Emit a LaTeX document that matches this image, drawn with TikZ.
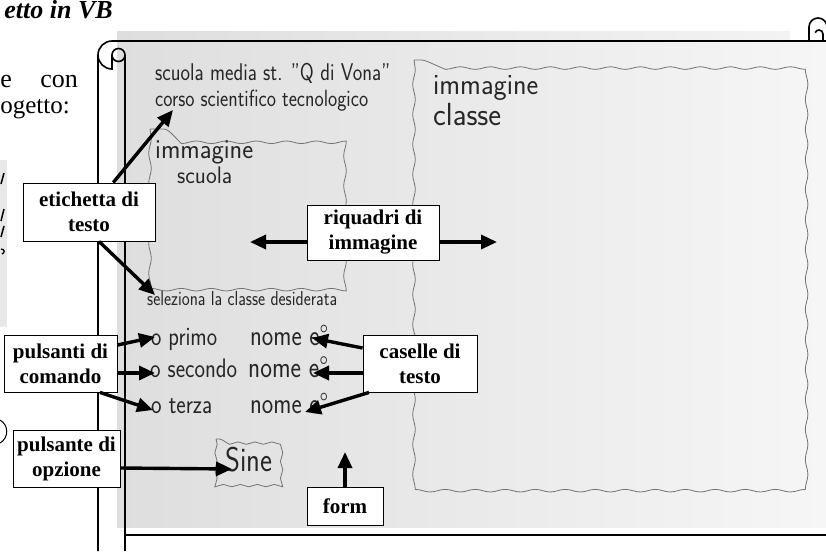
\documentclass[tikz,border=0pt]{standalone}
\usepackage{fontspec}
\setmainfont{Liberation Serif}
\usetikzlibrary{arrows.meta,decorations.pathmorphing,calc}
\newcommand{\hwt}[3][1.2]{\scalebox{1}[#1]{\resizebox{#2pt}{!}{\fontsize{16}{16}\selectfont\sffamily #3}}}
\begin{document}
\begin{tikzpicture}[x=1pt,y=-1pt,
  scrollline/.style={line width=1.6pt,black},
  hw/.style={anchor=base west,inner sep=0pt,text=black!85},
  wavy/.style={draw=black!55,line width=0.8pt,decorate,decoration={snake,amplitude=1.3pt,segment length=30pt}},
  callout/.style={draw=black,line width=0.9pt,fill=white,align=center,inner sep=1pt,
     font=\fontsize{21}{25}\selectfont\bfseries},
  arr/.style={line width=3.4pt,-{Triangle[length=16pt,width=14pt]}},
  slidetext/.style={anchor=base east,inner sep=0pt}]
\useasboundingbox (0,0) rectangle (826,551);
\clip (0,0) rectangle (826,551);
% photo background
\shade[left color={rgb,255:red,222;green,222;blue,222},right color={rgb,255:red,246;green,246;blue,246}]
  (117,41) rectangle (826,527);
\shade[left color={rgb,255:red,222;green,222;blue,222},right color={rgb,255:red,243;green,243;blue,243}]
  (117,32) rectangle (790,41);
% cut-off slide text
\node[slidetext,font=\fontsize{26}{26}\selectfont\bfseries\itshape] (title) at (113,19) {etto in VB};
\node[slidetext,font=\fontsize{26}{26}\selectfont] (l2a) at (12,87) {e};
\node[slidetext,font=\fontsize{26}{26}\selectfont] (l2b) at (78,87) {con};
\node[slidetext,font=\fontsize{25}{25}\selectfont] (l3) at (70,113) {ogetto:};
\fill[black!9] (0,160) rectangle (7,327);
\draw[line width=1.5pt] (1,184) -- (4,173);
\draw[line width=1.5pt] (1,221) -- (4,209);
\draw[line width=1.5pt] (1,237) -- (4,226);
\draw[line width=1.3pt] (1,249) .. controls (5,249) and (5,253) .. (2,254);
\draw[line width=1pt] (0,420) .. controls (9,425) and (9,438) .. (0,443);
% scroll frame
\draw[scrollline] (98,551) -- (98,55) arc[start angle=180,end angle=270,radius=14] -- (826,41);
\draw[scrollline] (98,55) arc[start angle=180,end angle=90,radius=14] -- (112,55);
\draw[scrollline] (118.5,55) circle[radius=6.5];
\draw[scrollline] (125,55) -- (125,551);
\draw[scrollline] (125,535) -- (826,535);
\draw[scrollline] (809,41) -- (809,27) arc[start angle=180,end angle=360,radius=9];
\draw[scrollline] (823,41) -- (823,34) arc[start angle=0,end angle=-160,radius=4];
% hand-drawn sketch
\draw[wavy] (150,129) rectangle (349,276);
\draw[wavy] (414,60) rectangle (798,484);
\draw[wavy,decoration={snake,amplitude=1.2pt,segment length=17pt}] (216,439) rectangle (283,481);
\node[hw] (h1) at (155,80) {\hwt{235}{scuola media st. "Q di Vona"}};
\node[hw] (h2) at (155,106) {\hwt{213}{corso scientifico tecnologico}};
\node[hw] (h3) at (155,158) {\hwt[1.05]{98}{immagine}};
\node[hw] (h4) at (177,183) {\hwt[1.05]{55}{scuola}};
\node[hw] (h5) at (433,94) {\hwt[1.05]{105}{immagine}};
\node[hw] (h6) at (433,125) {\hwt[1.05]{68}{classe}};
\node[hw] (h7) at (147,305) {\hwt{190}{seleziona la classe desiderata}};
\node[hw] (r1a) at (151,345) {\hwt{66}{o primo}};
\node[hw] (r1b) at (250,345) {\hwt{78}{nome e°}};
\node[hw] (r2a) at (150,377) {\hwt{87}{o secondo}};
\node[hw] (r2b) at (248,377) {\hwt{80}{nome e°}};
\node[hw] (r3a) at (151,413) {\hwt{61}{o terza}};
\node[hw] (r3b) at (250,413) {\hwt{78}{nome e°}};
\node[hw] (fine) at (225,471) {\hwt{47}{Sine}};
% callout boxes
\node[callout,minimum width=132pt,minimum height=58pt] (etich) at (89,212) {etichetta di\\testo};
\node[callout,minimum width=132pt,minimum height=55pt] (riq) at (373,232.5) {riquadri di\\immagine};
\node[callout,minimum width=113pt,minimum height=57pt] (puls) at (60.5,363.5) {pulsanti di\\comando};
\node[callout,minimum width=114pt,minimum height=57pt] (cas) at (420,363.5) {caselle di\\testo};
\node[callout,minimum width=107pt,minimum height=57pt] (opz) at (66.5,458.5) {pulsante di\\opzione};
\node[callout,minimum width=76pt,minimum height=38pt] (form) at (345,506) {form};
% arrow tips
\coordinate (te1) at (173,110);
\coordinate (te2) at (155,295);
\coordinate (tr1) at (250,242);
\coordinate (tr2) at (497,242);
\coordinate (tp1) at (155,337);
\coordinate (tp2) at (155,373);
\coordinate (tp3) at (153,410);
\coordinate (tc1) at (312,338);
\coordinate (tc2) at (313,373);
\coordinate (tc3) at (305,412);
\coordinate (to1) at (232,469);
\coordinate (tf1) at (345,452);
% arrows
\draw[arr] (etich) -- (te1);
\draw[arr] ([xshift=10pt]etich.south) -- (te2);
\draw[arr] ([yshift=-9.5pt]riq.west) -- (tr1);
\draw[arr] ([yshift=-9.5pt]riq.east) -- (tr2);
\draw[arr] ([yshift=18.5pt]puls.east) -- (tp1);
\draw[arr] ([yshift=-9.5pt]puls.east) -- (tp2);
\draw[arr] ([xshift=39.5pt]puls.south) -- (tp3);
\draw[arr] ([yshift=15.5pt]cas.west) -- (tc1);
\draw[arr] ([yshift=-9.5pt]cas.west) -- (tc2);
\draw[arr] ([xshift=-51pt]cas.south) -- (tc3);
\draw[arr] ([yshift=-9.5pt]opz.east) -- (to1);
\draw[arr] (form.north) -- (tf1);
\end{tikzpicture}
\end{document}
